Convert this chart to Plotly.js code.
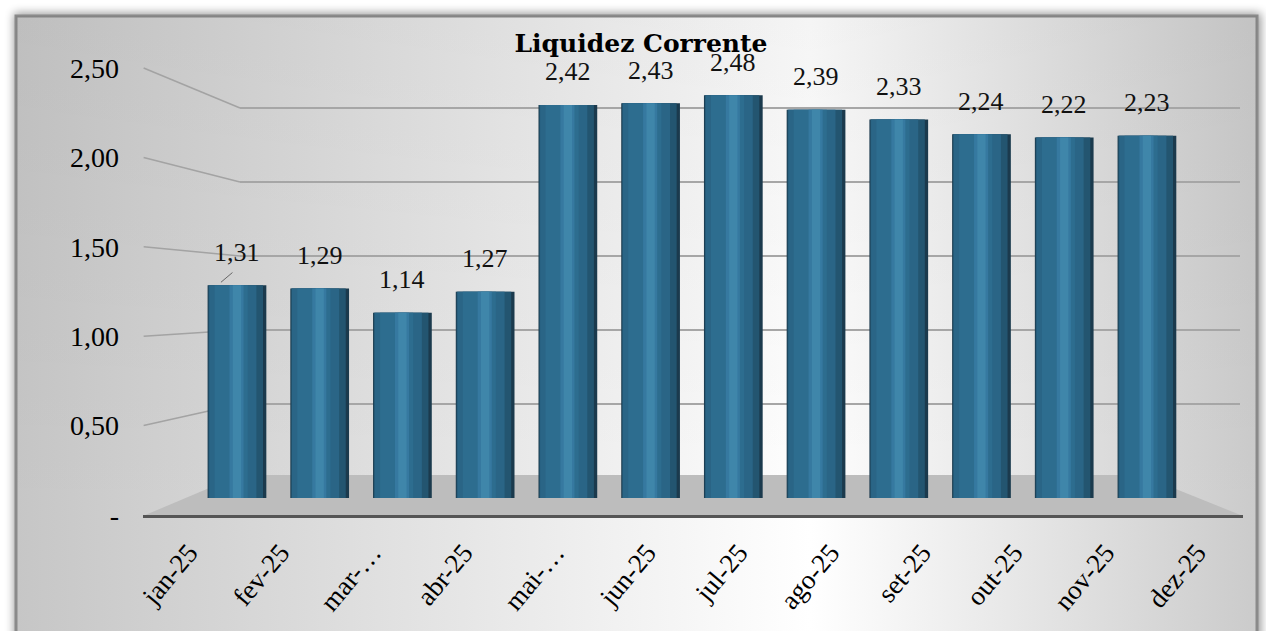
<!DOCTYPE html>
<html>
<head>
<meta charset="utf-8">
<script src="https://cdn.plot.ly/plotly-3.0.1.min.js"></script>
<style>html,body{margin:0;padding:0;background:#fff;}#chart{width:1266px;height:631px;}</style>
</head>
<body>
<div id="chart"></div>
<script>
// ---- data ----
const categories = ['jan-25','fev-25','mar-…','abr-25','mai-…','jun-25','jul-25','ago-25','set-25','out-25','nov-25','dez-25'];
const values = [1.31, 1.29, 1.14, 1.27, 2.42, 2.43, 2.48, 2.39, 2.33, 2.24, 2.22, 2.23];
const tickValues = [0, 0.5, 1, 1.5, 2, 2.5];
const tickLabels = ['-', '0,50', '1,00', '1,50', '2,00', '2,50'];
const chartTitle = 'Liquidez Corrente';

// ---- layout geometry (pixels of the 1266x631 page) ----
const W = 1266, H = 631;
const fx = px => px / W;
const fy = py => 1 - py / H;
const yMax = 2.5;
const backMax = 3.0;                 // back wall axis extends higher so the 2,50 gridline is inside
const backY = [fy(478), fy(478 - 148 * backMax)];   // back wall scale (148 px per unit)
const barY  = [fy(498), fy(92)];    // bars scale
const frontY = [fy(515), fy(68)];   // front scale (tick labels)
const backX = [fx(240), fx(1240)];
const barX = [fx(195.6), fx(1188.3)];
const frontX = [fx(143), fx(1243)];
const onAxis = (dom, max, v) => dom[0] + (dom[1] - dom[0]) * v / max;

// cylinder shading stripes (offset, width, colour)
const stripes = [
  [-0.355, 0.71, '#1b3a4d'],
  [-0.345, 0.66, '#235570'],
  [-0.335, 0.57, '#2a6586'],
  [-0.27, 0.40, '#2d6d8f'],
  [-0.09, 0.17, '#3679a0'],
  [-0.05, 0.10, '#3f86aa']
];

const traces = [];
// back-wall gridlines subplot (x/y)
traces.push({x: [0.5], y: [0], xaxis: 'x', yaxis: 'y', type: 'scatter', mode: 'markers',
  marker: {opacity: 0}, hoverinfo: 'skip', showlegend: false});
// bars (x2/y2)
stripes.forEach(s => {
  traces.push({x: categories, y: values, xaxis: 'x2', yaxis: 'y2', type: 'bar',
    offset: s[0], width: s[1], marker: {color: s[2], line: {width: 0}},
    hoverinfo: 'skip', showlegend: false});
});
// front axis subplot (x3/y3)
traces.push({x: categories, y: values.map(() => 0), xaxis: 'x3', yaxis: 'y3', type: 'scatter', mode: 'markers',
  marker: {opacity: 0}, hoverinfo: 'skip', showlegend: false});

const fmt = v => v.toFixed(2).replace('.', ',');
const annotations = categories.map((c, i) => ({
  x: c, y: values[i], xref: 'x2', yref: 'y2', text: fmt(values[i]), showarrow: false,
  yshift: 33, yanchor: 'middle',
  font: {family: 'Liberation Serif, DejaVu Serif, serif', size: 26, color: '#111'}
}));
annotations.push({x: categories[0], y: values[0], xref: 'x2', yref: 'y2', text: '', showarrow: true,
  arrowhead: 0, arrowwidth: 1, arrowcolor: '#666', ax: 13, ay: -11, xshift: -16, yshift: 3});

const shapes = [];
// floor
shapes.push({type: 'path', xref: 'paper', yref: 'paper', layer: 'below',
  path: `M ${fx(143)},${fy(516)} L ${fx(1243)},${fy(516)} L ${fx(1141)},${fy(475)} L ${fx(240)},${fy(475)} Z`,
  fillcolor: '#bdbdbd', line: {width: 0}});
// connectors between front tick and back wall gridline
tickValues.filter(v => v > 0).forEach(v => {
  shapes.push({type: 'line', xref: 'paper', yref: 'paper', layer: 'below',
    x0: frontX[0] + 0.0005, y0: onAxis(frontY, yMax, v), x1: backX[0], y1: onAxis(backY, backMax, v),
    line: {color: '#a3a3a3', width: 1.5}});
});

const svg = `<svg xmlns='http://www.w3.org/2000/svg' width='1266' height='631'>
<defs>
<linearGradient id='g' x1='0' y1='0' x2='1' y2='0'>
<stop offset='0' stop-color='#c6c6c6'/><stop offset='0.64' stop-color='#ffffff'/><stop offset='1' stop-color='#cbcbcb'/>
</linearGradient>
<linearGradient id='v' x1='0' y1='0' x2='0' y2='1'>
<stop offset='0' stop-color='#000' stop-opacity='0.04'/><stop offset='0.8' stop-color='#000' stop-opacity='0'/>
</linearGradient>
<filter id='s' x='-5%' y='-5%' width='110%' height='110%'><feGaussianBlur stdDeviation='5'/></filter>
</defs>
<rect width='1266' height='631' fill='#fff'/>
<rect x='14' y='13' width='1247' height='640' fill='#000' opacity='0.4' filter='url(#s)'/>
<rect x='16' y='16' width='1241' height='630' fill='url(#g)' stroke='#8a8a8a' stroke-width='3'/>
<rect x='16' y='16' width='1241' height='630' fill='url(#v)'/>
</svg>`;

const layout = {
  width: W, height: H,
  margin: {l: 0, r: 0, t: 0, b: 0},
  paper_bgcolor: '#ffffff', plot_bgcolor: 'rgba(0,0,0,0)',
  separators: ',.',
  barmode: 'overlay',
  hovermode: false,
  showlegend: false,
  title: {text: chartTitle, x: fx(641), y: fy(43), xref: 'paper', yref: 'paper',
    xanchor: 'center', yanchor: 'middle',
    font: {family: 'DejaVu Serif, serif', size: 25, color: '#000', weight: 'bold'}},
  images: [{source: 'data:image/svg+xml;charset=utf-8,' + encodeURIComponent(svg),
    xref: 'paper', yref: 'paper', x: 0, y: 1, sizex: 1, sizey: 1,
    xanchor: 'left', yanchor: 'top', sizing: 'stretch', layer: 'below'}],
  xaxis: {domain: backX, range: [0, 1], visible: false, fixedrange: true},
  yaxis: {domain: backY, range: [0, backMax], anchor: 'x', tickvals: tickValues.filter(v => v > 0),
    showticklabels: false, ticks: '', showgrid: true, gridcolor: '#a6a6a6', gridwidth: 1.5,
    zeroline: false, showline: false, fixedrange: true},
  xaxis2: {domain: barX, type: 'category', range: [-0.5, 11.5], visible: false, anchor: 'y2', fixedrange: true},
  yaxis2: {domain: barY, range: [0, yMax], visible: false, anchor: 'x2', fixedrange: true},
  xaxis3: {domain: frontX, type: 'category', range: [-0.5, 11.5], anchor: 'y3',
    showline: true, linecolor: '#555555', linewidth: 3, ticks: '', showgrid: false, zeroline: false,
    tickangle: -50, ticklabelstandoff: 8,
    tickfont: {family: 'Liberation Serif, DejaVu Serif, serif', size: 27, color: '#000'}, fixedrange: true},
  yaxis3: {domain: frontY, range: [0, yMax], anchor: 'free', position: frontX[0],
    tickvals: tickValues, ticktext: tickLabels, ticks: '', showgrid: false, zeroline: false, showline: false,
    ticklabelstandoff: 24,
    tickfont: {family: 'Liberation Serif, DejaVu Serif, serif', size: 28, color: '#000'}, fixedrange: true},
  annotations: annotations,
  shapes: shapes
};

Plotly.newPlot('chart', traces, layout, {displayModeBar: false, staticPlot: true});
</script>
</body>
</html>
